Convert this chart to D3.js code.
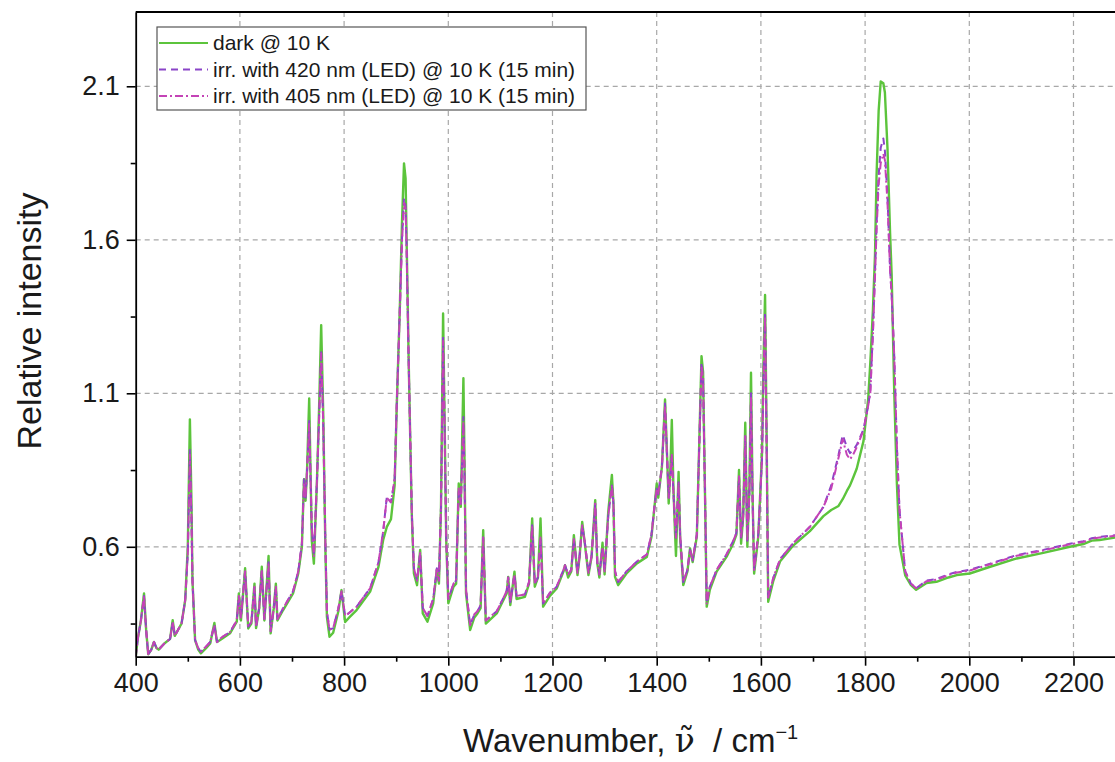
<!DOCTYPE html>
<html>
<head>
<meta charset="utf-8">
<script src="https://cdnjs.cloudflare.com/ajax/libs/d3/7.8.5/d3.min.js"></script>
<style>
  body { margin: 0; background: #fff; }
  svg { display: block; font-family: "Liberation Sans", Arial, sans-serif; }
</style>
</head>
<body>
<svg id="chart" width="1115" height="762"></svg>
<script>
// wavenumbers (cm-1), shared by all three traces
var wavenumbers = [
  400, 404, 410, 416, 420, 424, 430, 435, 440, 444,
  455, 466, 471, 475, 488, 495, 500, 504, 507, 509,
  514, 520, 525, 535, 543, 551, 556, 565, 581, 594,
  598, 602, 610, 616, 622, 628, 631, 637, 642, 647,
  655, 659, 665, 669, 672, 683, 702, 712, 719, 723,
  726, 729, 733, 738, 742, 748, 752, 756, 760, 764,
  767, 772, 779, 789, 795, 802, 810, 824, 850, 866,
  875, 882, 890, 897, 901, 907, 911, 915, 918, 920,
  924, 927, 930, 934, 940, 946, 951, 960, 971, 978,
  982, 986, 990, 993, 996, 1000, 1010, 1015, 1020, 1024,
  1029, 1031, 1034, 1042, 1050, 1056, 1062, 1067, 1072, 1093,
  1112, 1115, 1119, 1127, 1131, 1147, 1155, 1161, 1166, 1172,
  1177, 1182, 1195, 1208, 1221, 1224, 1230, 1236, 1241, 1248,
  1252, 1257, 1262, 1269, 1275, 1282, 1286, 1290, 1296, 1300,
  1307, 1314, 1317, 1320, 1326, 1342, 1362, 1381, 1390, 1397,
  1400, 1403, 1410, 1416, 1420, 1423, 1426, 1429, 1432, 1435,
  1437, 1442, 1445, 1451, 1459, 1464, 1469, 1477, 1482, 1486,
  1489, 1493, 1496, 1502, 1515, 1534, 1547, 1553, 1558, 1562,
  1566, 1570, 1574, 1578, 1581, 1584, 1587, 1595, 1602, 1605,
  1608, 1611, 1614, 1624, 1637, 1662, 1694, 1720, 1735, 1749,
  1757, 1765, 1771, 1777, 1784, 1797, 1806, 1810, 1815, 1819,
  1822, 1826, 1830, 1835, 1838, 1843, 1848, 1851, 1856, 1861,
  1866, 1877, 1888, 1898, 1918, 1937, 1960, 1976, 2001, 2040,
  2091, 2142, 2193, 2219, 2235, 2250, 2280, 2300
];

var darkValues = [
  .242, .30, .36, .448, .33, .25, .265, .29, .27, .265,
  .285, .30, .361, .31, .35, .426, .60, 1.015, .75, .49,
  .296, .265, .253, .27, .285, .352, .29, .30, .318, .356,
  .448, .36, .53, .334, .35, .48, .335, .40, .535, .36,
  .57, .318, .40, .48, .36, .394, .448, .513, .60, .82,
  .75, .855, 1.083, .62, .545, .82, 1.05, 1.322, 1.03, .60,
  .372, .307, .32, .39, .459, .355, .37, .394, .454, .535,
  .622, .665, .69, .80, 1.056, 1.38, 1.65, 1.849, 1.80, 1.60,
  1.20, .948, .70, .513, .475, .59, .383, .356, .416, .524,
  .48, .73, 1.36, 1.00, .622, .416, .47, .48, .806, .73,
  1.149, .90, .448, .329, .37, .383, .40, .654, .35, .383,
  .448, .502, .41, .519, .43, .437, .48, .692, .47, .50,
  .692, .405, .44, .464, .519, .54, .50, .52, .638, .508,
  .567, .681, .611, .508, .567, .752, .546, .50, .613, .51,
  .714, .834, .741, .502, .475, .513, .546, .567, .633, .752,
  .806, .76, .86, 1.08, .893, .741, .84, 1.013, .80, .654,
  .57, .844, .63, .475, .52, .595, .55, .633, .958, 1.221,
  1.17, .741, .405, .46, .519, .567, .611, .64, .85, .61,
  .70, 1.004, .60, .80, 1.167, .77, .513, .633, .90, 1.20,
  1.42, .958, .421, .49, .553, .604, .651, .70, .72, .733,
  .755, .782, .80, .825, .855, .945, 1.083, 1.20, 1.371, 1.55,
  1.81, 2.02, 2.116, 2.11, 2.08, 1.897, 1.62, 1.484, 1.10, .807,
  .607, .507, .475, .46, .482, .486, .50, .508, .513, .535,
  .562, .58, .60, .609, .62, .622, .63, .635
];

var irr420Values = [
  .242, .30, .36, .44, .33, .25, .265, .29, .27, .265,
  .285, .30, .355, .31, .35, .426, .58, .915, .70, .49,
  .296, .27, .258, .275, .29, .345, .29, .305, .322, .36,
  .44, .37, .52, .34, .355, .47, .34, .40, .52, .365,
  .55, .325, .40, .47, .365, .40, .455, .52, .61, .82,
  .76, .85, 1.01, .66, .57, .82, 1.02, 1.24, 1.00, .62,
  .39, .33, .335, .40, .455, .375, .385, .405, .465, .55,
  .65, .763, .745, .82, 1.06, 1.38, 1.60, 1.735, 1.71, 1.58,
  1.20, .95, .71, .53, .49, .58, .40, .375, .43, .53,
  .49, .73, 1.284, .98, .63, .43, .48, .49, .79, .74,
  1.023, .85, .46, .345, .38, .39, .41, .63, .36, .39,
  .455, .50, .42, .51, .44, .445, .485, .67, .48, .50,
  .63, .415, .45, .47, .525, .54, .51, .525, .625, .515,
  .57, .67, .615, .515, .57, .74, .55, .51, .60, .52,
  .70, .80, .74, .52, .485, .52, .552, .575, .64, .75,
  .79, .77, .86, 1.067, .89, .76, .82, .90, .78, .68,
  .63, .81, .64, .485, .525, .59, .555, .64, .95, 1.20,
  1.15, .74, .415, .47, .525, .575, .62, .645, .83, .63,
  .70, .96, .62, .78, 1.10, .76, .525, .64, .88, 1.15,
  1.365, .93, .435, .50, .56, .612, .665, .73, .80, .90,
  .964, .925, .905, .915, .932, .983, 1.06, 1.108, 1.30, 1.496,
  1.65, 1.81, 1.90, 1.93, 1.89, 1.74, 1.50, 1.42, 1.22, .93,
  .72, .52, .48, .465, .49, .495, .51, .518, .525, .545,
  .573, .59, .61, .618, .628, .632, .638, .642
];

var irr405Values = [
  .242, .30, .36, .44, .33, .25, .265, .29, .27, .265,
  .285, .30, .355, .31, .35, .426, .58, .90, .70, .49,
  .296, .27, .258, .275, .29, .345, .29, .305, .322, .36,
  .44, .37, .52, .34, .355, .47, .34, .40, .52, .365,
  .55, .325, .40, .47, .365, .40, .455, .52, .61, .81,
  .76, .85, 1.00, .66, .57, .82, 1.02, 1.23, 1.00, .62,
  .39, .33, .335, .40, .455, .375, .385, .405, .465, .55,
  .65, .76, .745, .82, 1.06, 1.37, 1.59, 1.72, 1.70, 1.57,
  1.20, .95, .71, .53, .49, .58, .40, .375, .43, .53,
  .49, .73, 1.27, .98, .63, .43, .48, .49, .79, .74,
  1.01, .85, .46, .345, .38, .39, .41, .63, .36, .39,
  .455, .50, .42, .51, .44, .445, .485, .67, .48, .50,
  .63, .415, .45, .47, .525, .54, .51, .525, .625, .515,
  .57, .67, .615, .515, .57, .74, .55, .51, .60, .52,
  .70, .80, .74, .52, .485, .52, .552, .575, .64, .75,
  .79, .77, .86, 1.06, .89, .76, .82, .90, .78, .68,
  .63, .81, .64, .485, .525, .59, .555, .64, .95, 1.19,
  1.15, .74, .415, .47, .525, .575, .62, .645, .83, .63,
  .70, .96, .62, .78, 1.09, .76, .525, .64, .88, 1.14,
  1.35, .93, .435, .50, .56, .612, .665, .73, .79, .89,
  .95, .90, .885, .90, .925, .98, 1.06, 1.10, 1.29, 1.48,
  1.63, 1.78, 1.85, 1.88, 1.86, 1.72, 1.50, 1.42, 1.22, .93,
  .72, .52, .48, .465, .488, .493, .508, .516, .523, .543,
  .571, .588, .608, .616, .626, .63, .636, .64
];

var xTicks = [400, 600, 800, 1000, 1200, 1400, 1600, 1800, 2000, 2200];
var xMinorTicks = [500, 700, 900, 1100, 1300, 1500, 1700, 1900, 2100, 2300];
var yTicks = [0.6, 1.1, 1.6, 2.1];
var yMinorTicks = [0.35, 0.85, 1.35, 1.85];

var seriesNames = [
  "dark @ 10 K",
  "irr. with 420 nm (LED) @ 10 K (15 min)",
  "irr. with 405 nm (LED) @ 10 K (15 min)"
];

// layout (plot box runs a little past the right edge of the page)
var plotLeft = 135.7, plotRight = 1125.6, plotTop = 12, plotBottom = 656.7;

var svg = d3.select("#chart");

var x = d3.scaleLinear().domain([400, 2300]).range([plotLeft, plotRight]);
var y = d3.scaleLinear().domain([0.242, 2.342]).range([plotBottom, plotTop]);

// grid
var grid = svg.append("g").attr("class", "grid")
  .attr("stroke", "#a8a8a8")
  .attr("stroke-width", 1.2)
  .attr("stroke-dasharray", "5,4");

grid.selectAll("line.gx")
  .data(xTicks.slice(1))
  .enter().append("line")
  .attr("x1", function(d) { return x(d); })
  .attr("x2", function(d) { return x(d); })
  .attr("y1", plotTop)
  .attr("y2", plotBottom);

grid.selectAll("line.gy")
  .data(yTicks)
  .enter().append("line")
  .attr("x1", plotLeft)
  .attr("x2", plotRight)
  .attr("y1", function(d) { return y(d); })
  .attr("y2", function(d) { return y(d); });

// traces
svg.append("clipPath").attr("id", "plot-clip")
  .append("rect")
  .attr("x", plotLeft).attr("y", plotTop)
  .attr("width", plotRight - plotLeft).attr("height", plotBottom - plotTop);

var series = [
  { name: seriesNames[0], values: darkValues, color: "#5cc43c", dash: null, width: 2.4 },
  { name: seriesNames[1], values: irr420Values, color: "#8a44c8", dash: "7,5", width: 2 },
  { name: seriesNames[2], values: irr405Values, color: "#c443b6", dash: "8,3,2,3", width: 2 }
];

var line = d3.line()
  .x(function(d) { return x(d[0]); })
  .y(function(d) { return y(d[1]); });

var traces = svg.append("g").attr("clip-path", "url(#plot-clip)");

series.forEach(function(s) {
  var pts = wavenumbers.map(function(w, i) { return [w, s.values[i]]; });
  traces.append("path")
    .datum(pts)
    .attr("fill", "none")
    .attr("stroke", s.color)
    .attr("stroke-width", s.width)
    .attr("stroke-linejoin", "round")
    .attr("stroke-dasharray", s.dash)
    .attr("d", line);
});

// axes
svg.append("g")
  .attr("transform", "translate(0," + plotBottom + ")")
  .call(d3.axisBottom(x).tickValues(xTicks).tickSize(9).tickPadding(7).tickSizeOuter(0)
    .tickFormat(d3.format("d")));

svg.append("g")
  .attr("transform", "translate(0," + plotBottom + ")")
  .call(d3.axisBottom(x).tickValues(xMinorTicks).tickSize(5).tickFormat("").tickSizeOuter(0))
  .select(".domain").remove();

svg.append("g")
  .attr("transform", "translate(" + plotLeft + ",0)")
  .call(d3.axisLeft(y).tickValues(yTicks).tickSize(9).tickPadding(7).tickSizeOuter(0)
    .tickFormat(d3.format(".1f")));

svg.append("g")
  .attr("transform", "translate(" + plotLeft + ",0)")
  .call(d3.axisLeft(y).tickValues(yMinorTicks).tickSize(5).tickFormat("").tickSizeOuter(0))
  .select(".domain").remove();

svg.selectAll(".tick line").attr("stroke", "#000").attr("stroke-width", 1.6);
svg.selectAll(".domain").attr("stroke", "#000").attr("stroke-width", 1.8);
svg.selectAll(".tick text")
  .attr("fill", "#1a1a1a")
  .style("font-size", "27px")
  .style("font-family", "'Liberation Sans', Arial, sans-serif");

// top frame
svg.append("line")
  .attr("x1", plotLeft).attr("x2", plotRight)
  .attr("y1", plotTop).attr("y2", plotTop)
  .attr("stroke", "#000").attr("stroke-width", 1.8);

// axis titles
var xTitle = svg.append("text")
  .attr("x", (plotLeft + plotRight) / 2)
  .attr("y", 752)
  .attr("text-anchor", "middle")
  .attr("fill", "#1a1a1a")
  .style("font-size", "33px");
xTitle.append("tspan").text("Wavenumber, ");
xTitle.append("tspan").style("font-family", "'DejaVu Serif', serif").text("\u03BD\u0303");
xTitle.append("tspan").text("\u00A0 / cm");
xTitle.append("tspan").attr("dy", -13).style("font-size", "20px").text("\u22121");

svg.append("text")
  .attr("transform", "translate(41,321) rotate(-90)")
  .attr("text-anchor", "middle")
  .attr("fill", "#1a1a1a")
  .style("font-size", "34px")
  .text("Relative intensity");

// legend
var legend = svg.append("g").attr("transform", "translate(157,27)");
legend.append("rect")
  .attr("width", 429).attr("height", 83)
  .attr("fill", "#fff")
  .attr("stroke", "#555").attr("stroke-width", 1.2);

var entries = legend.selectAll("g.entry")
  .data(series)
  .enter().append("g")
  .attr("transform", function(d, i) { return "translate(0," + (16 + i * 26.5) + ")"; });

entries.append("line")
  .attr("x1", 2).attr("x2", 51)
  .attr("stroke", function(d) { return d.color; })
  .attr("stroke-width", 2)
  .attr("stroke-dasharray", function(d) { return d.dash; });

entries.append("text")
  .attr("x", 56)
  .attr("y", 7)
  .attr("fill", "#1a1a1a")
  .style("font-size", "21px")
  .text(function(d) { return d.name; });
</script>
</body>
</html>
